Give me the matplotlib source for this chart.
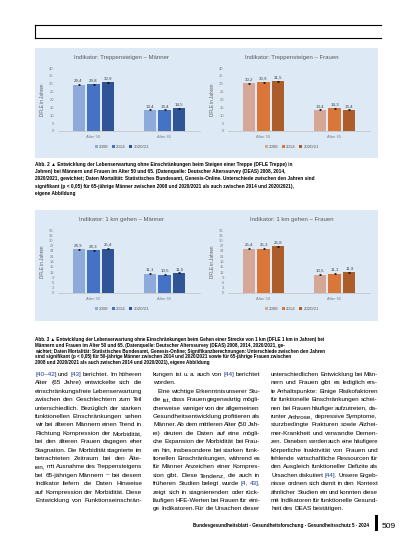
import numpy as np
import matplotlib.pyplot as plt
from matplotlib.patches import Rectangle

# page size in pixels
W, H = 413, 550

# data (DFLE in Jahren), rows = survey year, columns = age group
groups = ['Alter 50', 'Alter 65']
years = ['2008', '2014', '2020/21']

treppe_maenner = [[29.4, 13.4], [29.8, 13.4], [30.9, 14.5]]
treppe_frauen = [[30.2, 13.4], [30.9, 14.3], [31.5, 13.4]]
gehen_maenner = [[24.9, 11.1], [24.3, 10.5], [25.4, 11.5]]
gehen_frauen = [[25.4, 10.5], [25.3, 11.1], [26.8, 11.9]]
ci = [0.3, 0.3, 0.3]

blues = ['#8eaadb', '#4472c4', '#2f5597']
oranges = ['#d6a796', '#d9773a', '#ad5d2a']
panel_bg = '#ddeaf6'
grey = '#7f7f7f'

fam = ['Liberation Sans', 'DejaVu Sans']

fig = plt.figure(figsize=(W / 100, H / 100), dpi=100)


def fx(x):
    return x / W


def fy(y):
    return 1 - y / H


def bar_chart(left, top, bottom, title, data, colors, ymax, ystep):
    ax = fig.add_axes([fx(left), fy(bottom), 142 / W, (bottom - top) / H])
    ax.set_facecolor('none')
    x = np.arange(len(groups))
    w = 0.17
    offs = [-0.21, 0, 0.21]
    for i in range(len(years)):
        ax.bar(x + offs[i], data[i], w, color=colors[i], label=years[i],
               yerr=ci[i], error_kw=dict(elinewidth=0.5, capsize=0.8, capthick=0.5, ecolor='black'))
        for xi, v in zip(x, data[i]):
            ax.text(xi + offs[i], v + ci[i] + ymax * 0.02, f'{v:.1f}'.replace('.', ','),
                    ha='center', va='bottom', fontsize=3.2, color='#404040', family=fam)
    ax.set_xlim(-0.5, 1.5)
    ax.set_ylim(0, ymax)
    ax.set_yticks(np.arange(0, ymax + 0.1, ystep))
    ax.set_xticks(x)
    ax.set_xticklabels(groups)
    ax.tick_params(axis='both', length=0, labelsize=3.0, labelcolor=grey, pad=3)
    for lab in ax.get_xticklabels() + ax.get_yticklabels():
        lab.set_family(fam)
    for s in ['top', 'right', 'left']:
        ax.spines[s].set_visible(False)
    ax.spines['bottom'].set_color('#bfbfbf')
    ax.spines['bottom'].set_linewidth(0.5)
    ax.set_ylabel('DFLE in Jahren', fontsize=3.3, color='#595959', family=fam, labelpad=3)
    cx = left + 64
    fig.text(fx(cx), fy(top - 10), title, ha='center', va='center', fontsize=4.3,
             color='#595959', family=fam)
    ax.legend(loc='center', bbox_to_anchor=(fx(cx), fy(bottom + 16)), bbox_transform=fig.transFigure,
              ncol=3, frameon=False, handlelength=0.6, handleheight=0.6,
              columnspacing=0.8, handletextpad=0.3, prop={'family': fam, 'size': 3.2},
              labelcolor='#595959')
    return ax


# top box of the page
fig.add_artist(plt.Line2D([fx(35), fx(381)], [fy(25), fy(25)], color='black', lw=0.8))
fig.add_artist(plt.Line2D([fx(35), fx(381)], [fy(37.5), fy(37.5)], color='black', lw=0.8))
fig.add_artist(plt.Line2D([fx(35), fx(35)], [fy(25), fy(37.5)], color='black', lw=0.8))

# figure backgrounds
fig.add_artist(Rectangle((fx(35), fy(158)), 343 / W, 110 / H, transform=fig.transFigure,
                         color=panel_bg, lw=0, zorder=0))
fig.add_artist(Rectangle((fx(35), fy(321)), 343 / W, 111 / H, transform=fig.transFigure,
                         color=panel_bg, lw=0, zorder=0))

bar_chart(58, 68, 131, 'Indikator: Treppensteigen – Männer', treppe_maenner, blues, 40, 5)
bar_chart(228, 68, 131, 'Indikator: Treppensteigen – Frauen', treppe_frauen, oranges, 40, 5)
bar_chart(58, 230, 293, 'Indikator: 1 km gehen – Männer', gehen_maenner, blues, 36, 3)
bar_chart(228, 230, 293, 'Indikator: 1 km gehen – Frauen', gehen_frauen, oranges, 36, 3)

# captions
cap2 = [
    'Abb. 2 ▲ Entwicklung der Lebenserwartung ohne Einschränkungen beim Steigen einer Treppe (DFLE Treppe) in',
    'Jahren) bei Männern und Frauen im Alter 50 und 65. (Datenquelle: Deutscher Alterssurvey (DEAS) 2008, 2014,',
    '2020/2021, gewichtet; Daten Mortalität: Statistisches Bundesamt, Genesis-Online. Unterschiede zwischen den Jahren sind',
    'signifikant (p < 0,05) für 65-jährige Männer zwischen 2008 und 2020/2021 als auch zwischen 2014 und 2020/2021),',
    'eigene Abbildung',
]
cap3 = [
    'Abb. 3 ▲ Entwicklung der Lebenserwartung ohne Einschränkungen beim Gehen einer Strecke von 1 km (DFLE 1 km in Jahren) bei',
    'Männern und Frauen im Alter 50 und 65. (Datenquelle: Deutscher Alterssurvey (DEAS) 2008, 2014, 2020/2021, ge-',
    'wichtet; Daten Mortalität: Statistisches Bundesamt, Genesis-Online; Signifikanzberechnungen: Unterschiede zwischen den Jahren',
    'sind signifikant (p < 0,05) für 50-jährige Männer zwischen 2014 und 2020/2021 sowie für 65-jährige Frauen zwischen',
    '2008 und 2020/2021 als auch zwischen 2014 und 2020/2021), eigene Abbildung',
]
for i, line in enumerate(cap2):
    fig.text(fx(35), fy(166 + i * 7.2), line, fontsize=3.4, weight='bold', family=fam, va='baseline')
for i, line in enumerate(cap3):
    fig.text(fx(35), fy(341 + i * 5.8), line, fontsize=3.3, weight='bold', family=fam, va='baseline')

# body text, three columns
col1 = [
    '[40–42] und [43] berichtet. Im höheren',
    'Alter (65 Jahre) entwickelte sich die',
    'einschränkungsfreie Lebenserwartung',
    'zwischen den Geschlechtern zum Teil',
    'unterschiedlich. Bezüglich der starken',
    'funktionellen Einschränkungen sehen',
    'wir bei älteren Männern einen Trend in',
    'Richtung Kompression der Morbidität,',
    'bei den älteren Frauen dagegen eher',
    'Stagnation. Die Morbidität stagnierte im',
    'betrachteten Zeitraum bei den Älte-',
    'ren, mit Ausnahme des Treppensteigens',
    'bei 65-jährigen Männern – bei diesem',
    'Indikator liefern die Daten Hinweise',
    'auf Kompression der Morbidität. Diese',
    'Entwicklung von Funktionseinschrän-',
]
col2 = [
    'kungen ist u. a. auch von [44] berichtet',
    'worden.',
    '   Eine wichtige Erkenntnis unserer Stu-',
    'die ist, dass Frauen gegenwärtig mögli-',
    'cherweise weniger von der allgemeinen',
    'Gesundheitsentwicklung profitieren als',
    'Männer. Ab dem mittleren Alter (50 Jah-',
    're) deuten die Daten auf eine mögli-',
    'che Expansion der Morbidität bei Frau-',
    'en hin, insbesondere bei starken funk-',
    'tionellen Einschränkungen, während es',
    'für Männer Anzeichen einer Kompres-',
    'sion gibt. Diese Tendenz, die auch in',
    'früheren Studien belegt wurde [4, 43],',
    'zeigt sich in stagnierenden oder rück-',
    'läufigen HFE-Werten bei Frauen für eini-',
    'ge Indikatoren. Für die Ursachen dieser',
]
col3 = [
    'unterschiedlichen Entwicklung bei Män-',
    'nern und Frauen gibt es lediglich ers-',
    'te Anhaltspunkte: Einige Risikofaktoren',
    'für funktionelle Einschränkungen schei-',
    'nen bei Frauen häufiger aufzutreten, da-',
    'runter Arthrose, depressive Symptome,',
    'sturzbedingte Frakturen sowie Alzhei-',
    'mer-Krankheit und verwandte Demen-',
    'zen. Daneben werden auch eine häufigere',
    'körperliche Inaktivität von Frauen und',
    'fehlende wirtschaftliche Ressourcen für',
    'den Ausgleich funktioneller Defizite als',
    'Ursachen diskutiert [44]. Unsere Ergeb-',
    'nisse ordnen sich damit in den Kontext',
    'ähnlicher Studien ein und konnten diese',
    'mit Indikatoren für funktionelle Gesund-',
    'heit des DEAS bestätigen.',
]
# lines that end a paragraph are not justified
ragged = {(1, 1), (2, 16)}

renderer = fig.canvas.get_renderer()
fs_body = 4.6
link_blue = '#1f3a93'


def put_line(text, x0, y, width, justify):
    indent = len(text) - len(text.lstrip(' '))
    words = text.split()
    x_start = x0 + indent * 1.6
    items = []
    for wd in words:
        c = link_blue if ('[' in wd or ']' in wd) else 'black'
        t = fig.text(0, fy(y), wd, fontsize=fs_body, family=fam, color=c, va='baseline')
        items.append(t)
    widths = [t.get_window_extent(renderer).width for t in items]
    space = 1.3
    if justify and len(items) > 1:
        space = (x0 + width - x_start - sum(widths)) / (len(items) - 1)
        if space < 0.9:
            # squeeze the words a little when the line is too long
            scale = (width - (x_start - x0) - 0.9 * (len(items) - 1)) / sum(widths)
            for t in items:
                t.set_fontsize(fs_body * scale)
            widths = [wdt * scale for wdt in widths]
            space = 0.9
    x = x_start
    for t, wdt in zip(items, widths):
        t.set_x(fx(x))
        x += wdt + space


cols = [(35, col1), (153, col2), (271, col3)]
for ci_, (x0, lines) in enumerate(cols):
    for li, line in enumerate(lines):
        put_line(line, x0, 376 + li * 8.4, 107, (ci_, li) not in ragged)

# footer
fig.text(fx(369), fy(527), 'Bundesgesundheitsblatt - Gesundheitsforschung - Gesundheitsschutz 5 · 2024',
         ha='right', va='baseline', fontsize=3.3, weight='bold', family=fam)
fig.add_artist(Rectangle((fx(375), fy(531)), 2.5 / W, 16 / H, transform=fig.transFigure,
                         color='black', lw=0))
fig.text(fx(382), fy(527.5), '509', ha='left', va='baseline', fontsize=6, family=fam)

fig.savefig('out.png', dpi=100)
